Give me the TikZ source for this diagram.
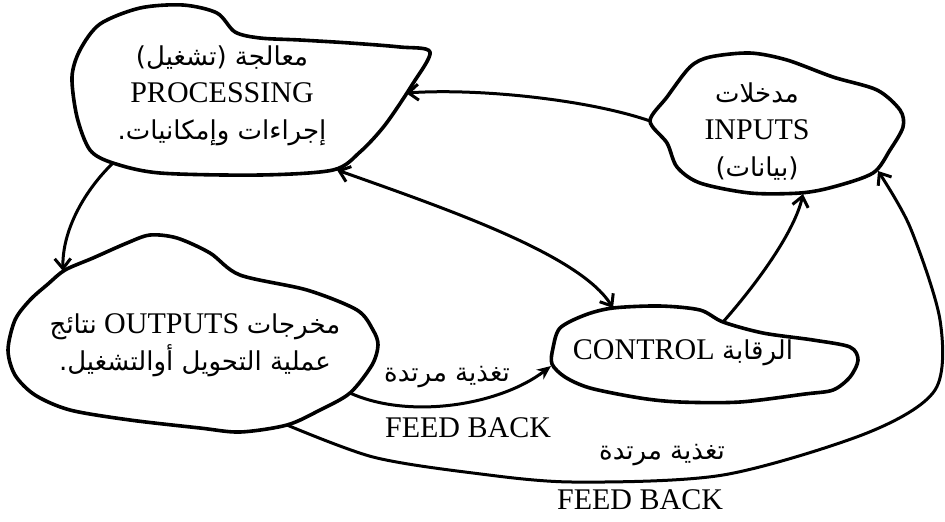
\documentclass[tikz,border=0pt]{standalone}
\usepackage{fontspec}
\setmainfont{Liberation Serif}
\newfontfamily\arabicfont[Script=Arabic]{DejaVu Sans}
\TeXXeTstate=1
\usetikzlibrary{arrows.meta}

\newcommand{\artxt}[1]{{\arabicfont\fontsize{13}{18.5}\selectfont #1}}

\begin{document}
\begin{tikzpicture}[x=0.5pt, y=-0.5pt
% Blob style
		, blob/.style={draw=black
							    , line width=1.8pt
							    , line join=round}
% Text styles
		, txt/.style={align=center
							    , font=\fontsize{15}{18.5}\selectfont
							    , inner sep=0pt}
		, lbl/.style={font=\fontsize{15}{18}\selectfont
							    , inner sep=0pt}
% Connector styles
		, link/.style={draw=black
							    , line width=1.5pt
							    , -{Straight Barb[length=5pt,width=8pt]}}
		, twolink/.style={link
							    , {Straight Barb[length=5pt,width=8pt]}-{Straight Barb[length=5pt,width=8pt]}}
		, fblink/.style={link
							    , -{Stealth[length=7pt,width=6pt]}}
	]
\useasboundingbox (0,0) rectangle (945,521);

%% Blobs
	\draw[blob] plot[smooth cycle] coordinates {(72,77) (80,50) (100,24) (140,8) (183,5) (217,13) (235,32) (260,38) (300,40) (350,43) (400,47) (430,52) (412,85) (385,125) (360,152) (333,170) (260,175) (160,173) (113,163) (90,150) (77,117)};
	\draw[blob] plot[smooth cycle] coordinates {(650,121) (667,97) (690,67) (710,57) (750,53) (787,60) (833,77) (877,90) (900,110) (903,127) (890,150) (873,173) (833,187) (800,193) (750,193) (700,183) (677,167) (667,143)};
	\draw[blob] plot[smooth cycle] coordinates {(65,270) (93,258) (127,243) (150,235) (177,238) (210,253) (240,275) (307,290) (357,310) (373,330) (378,345) (372,365) (350,393) (320,410) (287,425) (240,432) (200,428) (130,420) (70,410) (35,395) (15,375) (8,350) (15,320) (30,300) (48,284)};
	\draw[blob] plot[smooth cycle] coordinates {(553,348) (560,328) (585,315) (613,308) (660,306) (700,310) (723,322) (763,333) (813,340) (850,347) (858,360) (850,377) (833,390) (805,394) (740,402) (680,402) (640,398) (590,388) (565,377) (552,364)};

%% Texts
	\node[txt] (proc) at (222,96) {\beginR\artxt{معالجة (تشغيل)}\endR\\ PROCESSING\\ \beginR\artxt{إجراءات وإمكانيات.}\endR};
	\node[txt] (inp) at (757,132) {\beginR\artxt{مدخلات}\endR\\ INPUTS\\ \beginR\artxt{(بيانات)}\endR};
	\node[txt] (outp) at (195,345) {\beginR\artxt{مخرجات} \beginL OUTPUTS\endL{} \artxt{نتائج}\endR\\ \beginR\artxt{عملية التحويل أوالتشغيل.}\endR};
	\node[txt] (ctrl) at (683,353) {\beginR\artxt{الرقابة} \beginL CONTROL\endL\endR};
	\node[lbl] (fbar1) at (447,377) {\beginR\artxt{تغذية مرتدة}\endR};
	\node[lbl] (fben1) at (468,428) {FEED BACK};
	\node[lbl] (fbar2) at (662,455) {\beginR\artxt{تغذية مرتدة}\endR};
	\node[lbl] (fben2) at (640,500) {FEED BACK};

%% Ends of connectors on the blobs
	\coordinate (proc-r) at (406,93);
	\coordinate (proc-b) at (337,170);
	\coordinate (proc-bl) at (113,163);
	\coordinate (inp-l) at (650,121);
	\coordinate (inp-b) at (803,194);
	\coordinate (inp-br) at (878,171);
	\coordinate (outp-t) at (63,271);
	\coordinate (outp-r) at (350,393);
	\coordinate (outp-br) at (287,425);
	\coordinate (ctrl-t) at (613,308);
	\coordinate (ctrl-tr) at (723,322);
	\coordinate (ctrl-l) at (551,366);

%% Connectors
	\begin{scope}
	\draw[link] (inp-l) .. controls (590,100) and (480,88) .. (proc-r);
	\draw[link] (proc-bl) .. controls (85,190) and (62,230) .. (outp-t);
	\draw[twolink] (proc-b) .. controls (450,210) and (580,255) .. (ctrl-t);
	\draw[link] (ctrl-tr) .. controls (760,280) and (795,230) .. (inp-b);
	\draw[fblink] (outp-r) .. controls (410,420) and (500,405) .. (ctrl-l);
	\draw[link] plot[smooth] coordinates {(outp-br) (373,457) (473,473) (573,482) (723,475) (867,433) (935,390) (940,320) (910,227) (inp-br)};
	\end{scope}
\end{tikzpicture}
\end{document}
